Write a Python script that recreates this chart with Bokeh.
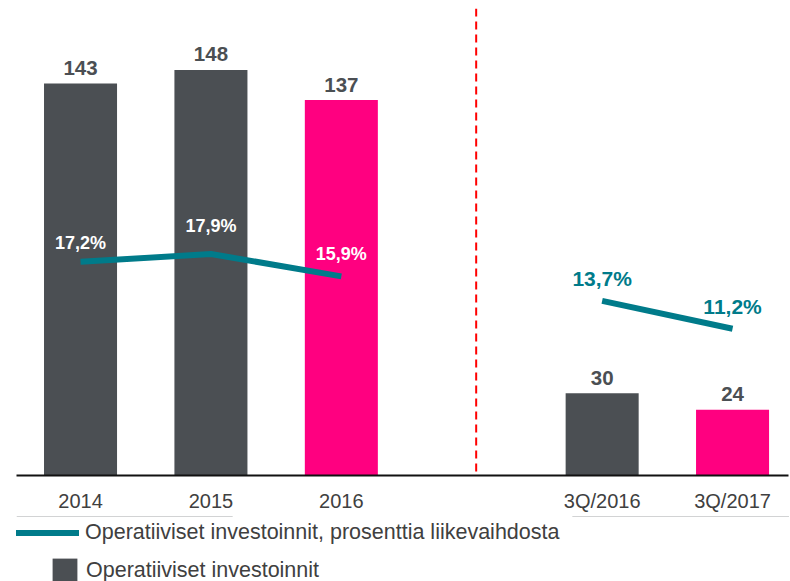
from bokeh.plotting import figure
from bokeh.layouts import column
from bokeh.models import ColumnDataSource, Range1d, FixedTicker, Span, Legend, LegendItem
from bokeh.embed import file_html
from bokeh.resources import INLINE
from bokeh.core.properties import value

# ---- data ----
categories = ["2014", "2015", "2016", "3Q/2016", "3Q/2017"]
investments = [143, 148, 137, 30, 24]
pct_of_revenue = [17.2, 17.9, 15.9, 13.7, 11.2]
highlighted = [False, False, True, False, True]
bar_series_name = "Operatiiviset investoinnit"
line_series_name = "Operatiiviset investoinnit, prosenttia liikevaihdosta"

# ---- styles ----
GAP_AFTER = 3
DARK = "#4b4f53"
PINK = "#ff0080"
TEAL = "#007b8a"
TEXT = "#404040"
FONT = "Liberation Sans"
bar_label_dy = -15.5
pct_label_dy = [-19, -28, -22, -22, -22]
pct_label_color = ["white", "white", "white", TEAL, TEAL]

xpos = [i if i < GAP_AFTER else i + 1 for i in range(len(categories))]

p = figure(width=790, height=516, output_backend="svg", toolbar_location=None,
           x_range=Range1d(-0.491, 5.429), y_range=Range1d(0, 170.4),
           y_axis_location=None,
           min_border_left=16, min_border_right=2, min_border_top=8, min_border_bottom=41)
p.extra_y_ranges = {"pct": Range1d(-1.944, 39.90)}
p.title.visible = False
p.outline_line_color = None
p.xgrid.visible = False
p.ygrid.visible = False
p.background_fill_color = "white"

bar_src = ColumnDataSource(dict(
    x=xpos, v=investments,
    color=[PINK if h else DARK for h in highlighted],
    label=[str(v) for v in investments],
    dy=[bar_label_dy] * len(investments),
))
bars = p.vbar(x="x", top="v", width=0.56, fill_color="color", line_color=None, source=bar_src)
p.text(x="x", y="v", text="label", source=bar_src, text_align="center",
       text_baseline="alphabetic", y_offset="dy", text_color=DARK,
       text_font=value(FONT), text_font_style="bold", text_font_size="20.5px")

k = GAP_AFTER
l1 = p.line(xpos[:k], pct_of_revenue[:k], y_range_name="pct", line_color=TEAL, line_width=6)
l2 = p.line(xpos[k:], pct_of_revenue[k:], y_range_name="pct", line_color=TEAL, line_width=6)

pct_src = ColumnDataSource(dict(
    x=xpos, v=pct_of_revenue,
    label=[f"{v:.1f}".replace(".", ",") + "%" for v in pct_of_revenue],
    dy=pct_label_dy, color=pct_label_color,
    size=["18px" if c == "white" else "21px" for c in pct_label_color],
))
p.text(x="x", y="v", text="label", source=pct_src, y_range_name="pct",
       text_align="center", text_baseline="alphabetic", y_offset="dy",
       text_color="color", text_font=value(FONT), text_font_style="bold",
       text_font_size="size")

p.add_layout(Span(location=GAP_AFTER + 0.034, dimension="height", line_color="#ff0000",
                  line_dash="8 5", line_width=2))

ax = p.xaxis[0]
ax.ticker = FixedTicker(ticks=xpos)
ax.major_label_overrides = {x: c for x, c in zip(xpos, categories)}
ax.major_tick_line_color = None
ax.minor_tick_line_color = None
ax.axis_line_color = "#111111"
ax.axis_line_width = 2
ax.major_label_standoff = 8
ax.major_label_text_font = FONT
ax.major_label_text_font_size = "20px"
ax.major_label_text_color = TEXT

# ---- legend strip: proxy renderers of the same data, kept outside the strip's view ----
q = figure(width=790, height=65, output_backend="svg", toolbar_location=None,
           x_range=Range1d(0, 1), y_range=Range1d(-3, -2),
           x_axis_location=None, y_axis_location=None, min_border=0)
q.title.visible = False
q.outline_line_color = None
q.xgrid.visible = False
q.ygrid.visible = False
line_proxy = q.line(xpos[:k], pct_of_revenue[:k], line_color=TEAL, line_width=6)
bar_proxy = q.vbar(x=xpos, top=investments, width=0.56, fill_color=DARK, line_color=None)

common = dict(padding=0, margin=0, border_line_color=None, background_fill_alpha=0,
              label_text_font=FONT, label_text_font_size="21.5px",
              label_text_color=TEXT, label_standoff=6, spacing=0)
legA = Legend(items=[LegendItem(label=line_series_name, renderers=[line_proxy])],
              location=(-6, 36.5), glyph_width=69, glyph_height=25, **common)
legB = Legend(items=[LegendItem(label=bar_series_name, renderers=[bar_proxy])],
              location=(33, -5), glyph_width=31, glyph_height=31, **common)
q.add_layout(legA)
q.add_layout(legB)

layout = column(p, q, spacing=0)
open("out.html", "w").write(file_html(layout, INLINE))
